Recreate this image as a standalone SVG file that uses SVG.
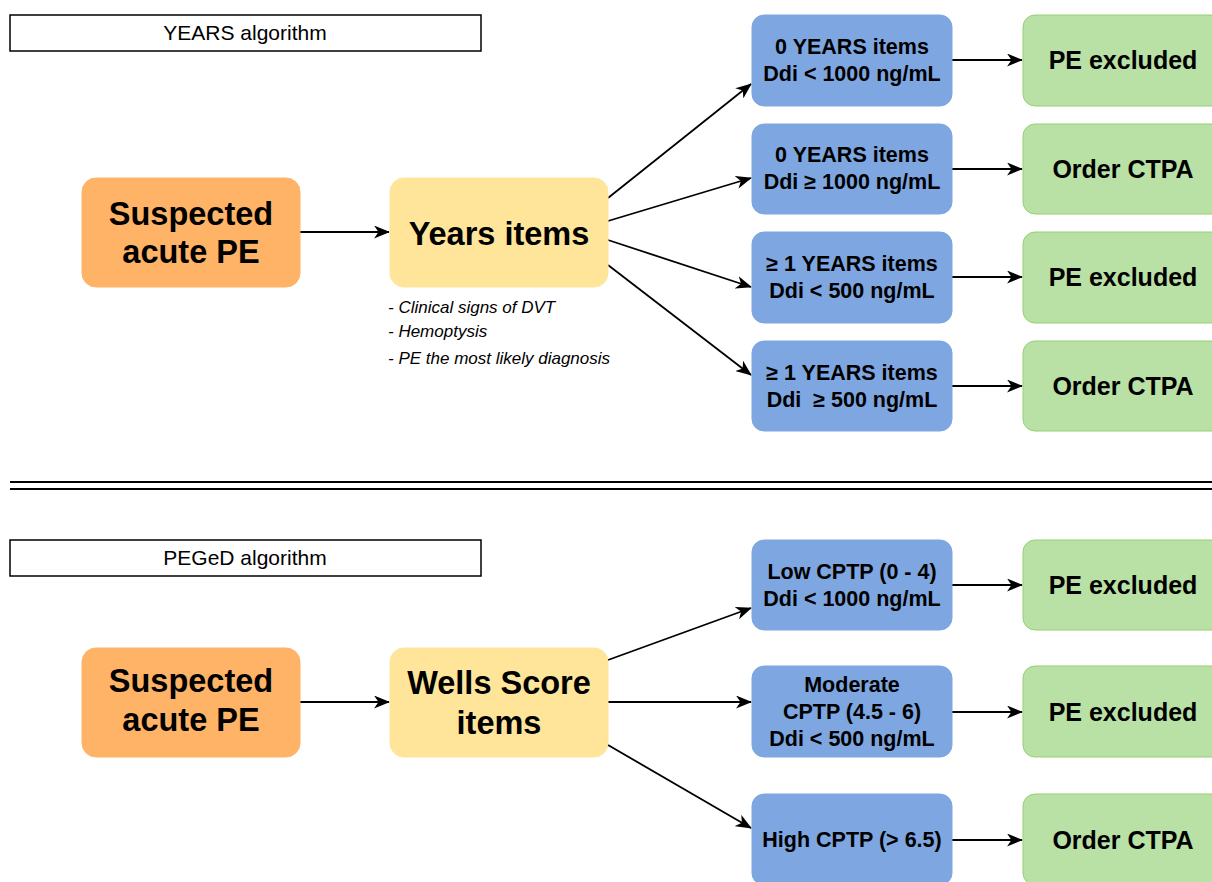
<svg xmlns="http://www.w3.org/2000/svg" width="1212" height="882" viewBox="0 0 1212 882">
<defs>
<marker id="ah" viewBox="0 0 16 13" refX="15" refY="6.5" markerWidth="16" markerHeight="13" markerUnits="userSpaceOnUse" orient="auto"><path d="M0,0 L16,6.5 L0,13 L4.5,6.5 Z" fill="#000"/></marker>
<style>
text{font-family:"Liberation Sans",Arial,sans-serif;text-anchor:middle;fill:#000}
.org{fill:#FFB366;stroke:#FFB366}
.yel{fill:#FFE599;stroke:#FFE599}
.blu{fill:#7EA6E0;stroke:#7EA6E0}
.grn{fill:#B9E0A5;stroke:#97D077}
.lbl{fill:#fff;stroke:#000;stroke-width:1.5}
.c{stroke:#000;stroke-width:1.8;fill:none;marker-end:url(#ah)}
.t19{font-size:21.5px;font-weight:bold}
.t24{font-size:25px;font-weight:bold}
.t30{font-size:32.5px;font-weight:bold}
.it{font-size:17px;font-style:italic;text-anchor:start}
</style>
</defs>
<rect width="1212" height="882" fill="#fff"/>

<g id="title-years"><rect class="lbl" x="10" y="15" width="471" height="36"/><text x="245" y="40" font-size="21">YEARS algorithm</text></g>
<g id="title-peged"><rect class="lbl" x="10" y="540" width="471" height="36"/><text x="245" y="565" font-size="21">PEGeD algorithm</text></g>

<g id="separator"><line x1="10" y1="482" x2="1212" y2="482" stroke="#000" stroke-width="2"/><line x1="10" y1="489" x2="1212" y2="489" stroke="#000" stroke-width="2"/></g>

<g id="connectors">
<line class="c" x1="300" y1="232" x2="389" y2="232"/>
<line class="c" x1="608" y1="198" x2="751" y2="84"/>
<line class="c" x1="608" y1="221" x2="751" y2="178"/>
<line class="c" x1="608" y1="240" x2="751" y2="287"/>
<line class="c" x1="608" y1="265" x2="751" y2="375"/>
<line class="c" x1="952" y1="60" x2="1022" y2="60"/>
<line class="c" x1="952" y1="169" x2="1022" y2="169"/>
<line class="c" x1="952" y1="277" x2="1022" y2="277"/>
<line class="c" x1="952" y1="386" x2="1022" y2="386"/>
<line class="c" x1="300" y1="702" x2="389" y2="702"/>
<line class="c" x1="608" y1="660" x2="751" y2="608"/>
<line class="c" x1="608" y1="702" x2="751" y2="702"/>
<line class="c" x1="608" y1="745" x2="751" y2="828"/>
<line class="c" x1="952" y1="585" x2="1022" y2="585"/>
<line class="c" x1="952" y1="712" x2="1022" y2="712"/>
<line class="c" x1="952" y1="840" x2="1022" y2="840"/>
</g>

<g id="suspected1"><rect class="org" x="82" y="178" width="218" height="109" rx="14"/><text class="t30" x="191" y="225">Suspected</text><text class="t30" x="191" y="263">acute PE</text></g>
<g id="years-items"><rect class="yel" x="390" y="178" width="218" height="109" rx="14"/><text class="t30" x="499" y="245">Years items</text></g>
<g id="years-list"><text class="it" x="388" y="313">- Clinical signs of DVT</text><text class="it" x="388" y="337">- Hemoptysis</text><text class="it" x="388" y="364">- PE the most likely diagnosis</text></g>

<g id="y1"><rect class="blu" x="752" y="15" width="200" height="91" rx="12"/><text class="t19" x="852" y="54">0 YEARS items</text><text class="t19" x="852" y="81">Ddi &lt; 1000 ng/mL</text></g>
<g id="y2"><rect class="blu" x="752" y="124" width="200" height="90" rx="12"/><text class="t19" x="852" y="162">0 YEARS items</text><text class="t19" x="852" y="189">Ddi ≥ 1000 ng/mL</text></g>
<g id="y3"><rect class="blu" x="752" y="232" width="200" height="91" rx="12"/><text class="t19" x="852" y="271">≥ 1 YEARS items</text><text class="t19" x="852" y="298">Ddi &lt; 500 ng/mL</text></g>
<g id="y4"><rect class="blu" x="752" y="341" width="200" height="90" rx="12"/><text class="t19" x="852" y="380">≥ 1 YEARS items</text><text class="t19" x="852" y="407" xml:space="preserve">Ddi  ≥ 500 ng/mL</text></g>

<g id="g1"><rect class="grn" x="1023" y="15" width="200" height="91" rx="12"/><text class="t24" x="1123" y="69">PE excluded</text></g>
<g id="g2"><rect class="grn" x="1023" y="124" width="200" height="90" rx="12"/><text class="t24" x="1123" y="178">Order CTPA</text></g>
<g id="g3"><rect class="grn" x="1023" y="232" width="200" height="91" rx="12"/><text class="t24" x="1123" y="286">PE excluded</text></g>
<g id="g4"><rect class="grn" x="1023" y="341" width="200" height="90" rx="12"/><text class="t24" x="1123" y="395">Order CTPA</text></g>

<g id="suspected2"><rect class="org" x="82" y="648" width="218" height="109" rx="14"/><text class="t30" x="191" y="692">Suspected</text><text class="t30" x="191" y="731">acute PE</text></g>
<g id="wells"><rect class="yel" x="390" y="648" width="218" height="109" rx="14"/><text class="t30" x="499" y="694">Wells Score</text><text class="t30" x="499" y="734">items</text></g>

<g id="p1"><rect class="blu" x="752" y="540" width="200" height="90" rx="12"/><text class="t19" x="852" y="579">Low CPTP (0 - 4)</text><text class="t19" x="852" y="606">Ddi &lt; 1000 ng/mL</text></g>
<g id="p2"><rect class="blu" x="752" y="666" width="200" height="91" rx="12"/><text class="t19" x="852" y="692">Moderate</text><text class="t19" x="852" y="719">CPTP (4.5 - 6)</text><text class="t19" x="852" y="746">Ddi &lt; 500 ng/mL</text></g>
<g id="p3"><rect class="blu" x="752" y="794" width="200" height="91" rx="12"/><text class="t19" x="852" y="847">High CPTP (&gt; 6.5)</text></g>

<g id="g5"><rect class="grn" x="1023" y="540" width="200" height="90" rx="12"/><text class="t24" x="1123" y="594">PE excluded</text></g>
<g id="g6"><rect class="grn" x="1023" y="666" width="200" height="91" rx="12"/><text class="t24" x="1123" y="721">PE excluded</text></g>
<g id="g7"><rect class="grn" x="1023" y="794" width="200" height="91" rx="12"/><text class="t24" x="1123" y="849">Order CTPA</text></g>
</svg>
